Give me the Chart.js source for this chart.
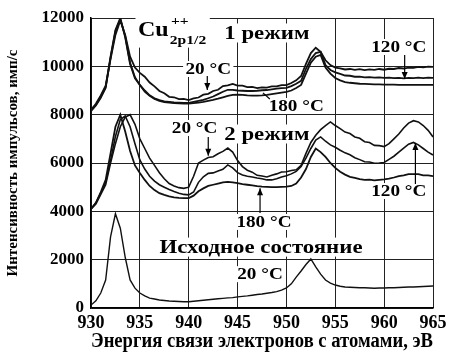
<!DOCTYPE html>
<html>
<head>
<meta charset="utf-8">
<script src="https://cdn.jsdelivr.net/npm/chart.js@4.4.1/dist/chart.umd.min.js"></script>
<style>
  html, body { margin: 0; padding: 0; background: #fff; }
</style>
</head>
<body>
<canvas id="c" width="455" height="354"></canvas>
<script>
// Энергия связи, эВ (шаг 0.5)
const energies = [
  930, 930.5, 931, 931.5, 932, 932.5, 933, 933.5, 934, 934.5,
  935, 935.5, 936, 936.5, 937, 937.5, 938, 938.5, 939, 939.5,
  940, 940.5, 941, 941.5, 942, 942.5, 943, 943.5, 944, 944.5,
  945, 945.5, 946, 946.5, 947, 947.5, 948, 948.5, 949, 949.5,
  950, 950.5, 951, 951.5, 952, 952.5, 953, 953.5, 954, 954.5,
  955, 955.5, 956, 956.5, 957, 957.5, 958, 958.5, 959, 959.5,
  960, 960.5, 961, 961.5, 962, 962.5, 963, 963.5, 964, 964.5, 965
];

// 1 режим
const mode1_20 = [
  8200, 8450, 8800, 9200, 10300, 11300, 11900, 11300, 10400, 9950,
  9730, 9570, 9330, 9170, 8980, 8890, 8740, 8720, 8640, 8650,
  8600, 8670, 8710, 8830, 8860, 8980, 9030, 9180, 9210, 9270,
  9200, 9200, 9140, 9150, 9100, 9130, 9120, 9170, 9170, 9220,
  9220, 9310, 9420, 9600, 10100, 10550, 10770, 10600, 10250, 10050,
  9950, 9920, 9870, 9890, 9850, 9880, 9840, 9870, 9850, 9890,
  9860, 9900, 9890, 9930, 9910, 9950, 9940, 9980, 9960, 9990, 9980
];
const mode1_120 = [
  8200, 8400, 8750, 9150, 10400, 11500, 12000, 11200, 10100, 9500,
  9230, 9000, 8800, 8680, 8600, 8550, 8530, 8510, 8500, 8490,
  8490, 8530, 8570, 8610, 8680, 8750, 8850, 8950, 9030, 9030,
  9000, 8990, 8980, 8980, 8990, 9010, 9020, 9050, 9080, 9100,
  9110, 9180, 9280, 9400, 9900, 10300, 10550, 10600, 10050, 9850,
  9750, 9690, 9620, 9610, 9570, 9570, 9540, 9550, 9530, 9540,
  9520, 9530, 9510, 9520, 9500, 9520, 9510, 9530, 9510, 9530, 9520
];
const mode1_180 = [
  8150, 8380, 8700, 9100, 10350, 11450, 11950, 11250, 10150, 9550,
  9230, 8950, 8780, 8650, 8570, 8520, 8500, 8480, 8470, 8460,
  8460, 8480, 8500, 8530, 8570, 8610, 8660, 8720, 8780, 8820,
  8830, 8820, 8800, 8790, 8790, 8800, 8820, 8850, 8880, 8910,
  8940, 9000, 9100, 9230, 9700, 10150, 10400, 10470, 9950, 9700,
  9520, 9420, 9350, 9320, 9300, 9280, 9270, 9260, 9250, 9250,
  9240, 9240, 9240, 9230, 9230, 9230, 9230, 9230, 9230, 9230, 9230
];

// 2 режим
const mode2_20 = [
  4100, 4300, 4700, 5100, 6000, 6800, 7500, 7900, 8000, 7600,
  7000, 6600, 6200, 5900, 5600, 5350, 5150, 5050, 4980, 4950,
  5000, 5450, 6000, 6120, 6230, 6260, 6380, 6480, 6620, 6450,
  6100, 5850, 5700, 5620, 5490, 5460, 5420, 5490, 5550, 5630,
  5640, 5690, 5720, 5900, 6400, 6850, 7150, 7380, 7550, 7700,
  7550, 7420, 7280, 7220, 7080, 7020, 6880, 6850, 6730, 6720,
  6680, 6800, 7000, 7200, 7450, 7650, 7750, 7700, 7550, 7350, 7080
];
const mode2_120 = [
  4100, 4350, 4750, 5200, 6100, 7100, 7800, 7950, 7500, 6800,
  6130, 5750, 5450, 5250, 5100, 5000, 4900, 4820, 4750, 4700,
  4680, 4800, 5200, 5430, 5570, 5590, 5670, 5740, 5920, 5800,
  5600, 5500, 5450, 5420, 5380, 5350, 5300, 5300, 5350, 5420,
  5470, 5550, 5650, 5850, 6200, 6600, 6950, 7080, 6900, 6750,
  6650, 6530, 6420, 6340, 6220, 6140, 6050, 6040, 5990, 6000,
  6020, 6150, 6280, 6450, 6620, 6780, 6850, 6750, 6600, 6450, 6330
];
const mode2_180 = [
  4100, 4350, 4800, 5300, 6400, 7500, 8000, 7300, 6500, 5900,
  5590, 5300, 5050, 4880, 4750, 4680, 4620, 4580, 4560, 4550,
  4550, 4650, 4830, 4950, 5050, 5100, 5150, 5200, 5220, 5200,
  5170, 5130, 5100, 5070, 5040, 5020, 5010, 5000, 5000, 5010,
  5020, 5050, 5150, 5400, 5750, 6250, 6600, 6450, 6250, 6000,
  5800, 5640, 5520, 5430, 5380, 5330, 5300, 5310, 5280, 5300,
  5320, 5350, 5400, 5460, 5490, 5540, 5540, 5540, 5490, 5490, 5460
];

// Исходное состояние, 20 °C
const initial_20 = [
  120, 300, 620, 1160, 2940, 3900, 3300, 2100, 1160, 820,
  620, 500, 410, 370, 330, 310, 290, 280, 270, 260,
  260, 280, 300, 320, 340, 360, 380, 400, 420, 430,
  460, 480, 500, 530, 560, 580, 610, 640, 680, 740,
  830, 1000, 1280, 1530, 1800, 2030, 1700, 1400, 1160, 1030,
  950, 900, 870, 860, 850, 840, 840, 830, 820, 830,
  830, 840, 840, 850, 860, 870, 870, 880, 890, 900, 910
];

const xTicks = [930, 935, 940, 945, 950, 955, 960, 965];
const yTicks = [0, 2000, 4000, 6000, 8000, 10000, 12000];

const serif = '"Liberation Serif", "Times New Roman", serif';
const stretch = 1.2;

// подписи на графике (в координатах осей)
const notes = [
  { text: '1 режим', x: 948.0, y: 11380, size: 19 },
  { text: '20 °C', x: 942.0, y: 9890, size: 16 },
  { text: '120 °C', x: 961.5, y: 10800, size: 16 },
  { text: '180 °C', x: 951.0, y: 8360, size: 16 },
  { text: '20 °C', x: 940.6, y: 7450, size: 16 },
  { text: '2 режим', x: 948.0, y: 7200, size: 19 },
  { text: '120 °C', x: 961.5, y: 4840, size: 16 },
  { text: '180 °C', x: 947.7, y: 3560, size: 16 },
  { text: 'Исходное состояние', x: 947.4, y: 2520, size: 19 },
  { text: '20 °C', x: 947.3, y: 1400, size: 16 }
];
const pointers = [
  { x1: 941.9, y1: 9600, x2: 941.9, y2: 9020, head: true },
  { x1: 962.1, y1: 10470, x2: 962.1, y2: 9480, head: true },
  { x1: 948.3, y1: 8650, x2: 947.6, y2: 8900, head: false },
  { x1: 942.0, y1: 7080, x2: 942.0, y2: 6300, head: true },
  { x1: 963.2, y1: 5130, x2: 963.2, y2: 6830, head: true },
  { x1: 947.3, y1: 3930, x2: 947.3, y2: 4960, head: true }
];

function series(values) {
  return values.map((v, i) => ({ x: energies[i], y: v }));
}

const notesPlugin = {
  id: 'notes',
  beforeDatasetsDraw(chart) {
    const { ctx, scales } = chart;
    ctx.save();
    ctx.textAlign = 'center';
    ctx.textBaseline = 'middle';
    notes.forEach(n => {
      const x = scales.x.getPixelForValue(n.x);
      const y = scales.y.getPixelForValue(n.y);
      ctx.save();
      ctx.translate(x, y);
      ctx.scale(stretch, 1);
      ctx.font = 'bold ' + n.size + 'px ' + serif;
      const w = ctx.measureText(n.text).width;
      ctx.fillStyle = '#fff';
      ctx.fillRect(-w / 2 - 2, -n.size * 0.5, w + 4, n.size);
      ctx.fillStyle = '#000';
      ctx.fillText(n.text, 0, 1);
      ctx.restore();
    });

    // Cu++ 2p1/2
    const cx = scales.x.getPixelForValue(934.8);
    const cy = scales.y.getPixelForValue(11520);
    ctx.translate(cx, cy);
    ctx.scale(stretch, 1);
    ctx.textAlign = 'left';
    ctx.font = 'bold 20px ' + serif;
    const cw = ctx.measureText('Cu').width;
    ctx.font = 'bold 13px ' + serif;
    const sw = ctx.measureText('2p1/2').width;
    ctx.fillStyle = '#fff';
    ctx.fillRect(-2, -16, cw + sw + 6, 34);
    ctx.fillStyle = '#000';
    ctx.font = 'bold 20px ' + serif;
    ctx.fillText('Cu', 0, 1);
    ctx.font = 'bold 13px ' + serif;
    ctx.fillText('++', cw + 2, -8);
    ctx.fillText('2p1/2', cw + 1, 11);
    ctx.restore();
  },
  afterDatasetsDraw(chart) {
    const { ctx, scales } = chart;
    ctx.save();
    ctx.strokeStyle = '#000';
    ctx.fillStyle = '#000';
    ctx.lineWidth = 1.2;
    pointers.forEach(p => {
      const x1 = scales.x.getPixelForValue(p.x1), y1 = scales.y.getPixelForValue(p.y1);
      const x2 = scales.x.getPixelForValue(p.x2), y2 = scales.y.getPixelForValue(p.y2);
      ctx.beginPath();
      ctx.moveTo(x1, y1);
      ctx.lineTo(x2, y2);
      ctx.stroke();
      if (p.head) {
        const a = Math.atan2(y2 - y1, x2 - x1);
        ctx.beginPath();
        ctx.moveTo(x2, y2);
        ctx.lineTo(x2 - 7 * Math.cos(a) + 3 * Math.sin(a), y2 - 7 * Math.sin(a) - 3 * Math.cos(a));
        ctx.lineTo(x2 - 7 * Math.cos(a) - 3 * Math.sin(a), y2 - 7 * Math.sin(a) + 3 * Math.cos(a));
        ctx.closePath();
        ctx.fill();
      }
    });
    ctx.restore();
  }
};

const line = (values, width) => ({
  data: series(values),
  borderColor: '#111',
  borderWidth: width,
  pointRadius: 0,
  tension: 0,
  fill: false
});

new Chart(document.getElementById('c'), {
  type: 'line',
  data: {
    datasets: [
      line(mode1_20, 1.8),
      line(mode1_120, 1.8),
      line(mode1_180, 1.8),
      line(mode2_20, 1.6),
      line(mode2_120, 1.6),
      line(mode2_180, 1.8),
      line(initial_20, 1.4)
    ]
  },
  options: {
    responsive: false,
    animation: false,
    layout: { padding: { top: 18, right: 22, left: 0, bottom: 0 } },
    plugins: { legend: { display: false }, tooltip: { enabled: false } },
    scales: {
      x: {
        type: 'linear',
        min: 930,
        max: 965,
        afterBuildTicks: s => { s.ticks = xTicks.map(v => ({ value: v })); },
        afterFit: s => { s.height = 46; },
        grid: { color: '#222', lineWidth: 1, drawTicks: false },
        border: { color: '#000', width: 1.5 },
        ticks: { color: '#000', padding: 5, maxRotation: 0, callback: v => String(v), font: { family: serif, weight: 'bold', size: 18 } },
        title: {
          display: true,
          text: 'Энергия связи электронов с атомами, эВ',
          color: '#000',
          padding: { top: 0, bottom: 0 },
          font: { family: serif, weight: 'bold', size: 20 }
        }
      },
      y: {
        min: 0,
        max: 12000,
        afterBuildTicks: s => { s.ticks = yTicks.map(v => ({ value: v })); },
        afterFit: s => { s.width = 91; },
        grid: { color: '#222', lineWidth: 1, drawTicks: false },
        border: { color: '#000', width: 1.5 },
        ticks: { color: '#000', padding: 7, callback: v => String(v), font: { family: serif, weight: 'bold', size: 17 } },
        title: {
          display: true,
          text: 'Интенсивность импульсов, имп/с',
          color: '#000',
          padding: { top: 4, bottom: 0 },
          font: { family: serif, weight: 'bold', size: 15 }
        }
      }
    }
  },
  plugins: [notesPlugin]
});
</script>
</body>
</html>
